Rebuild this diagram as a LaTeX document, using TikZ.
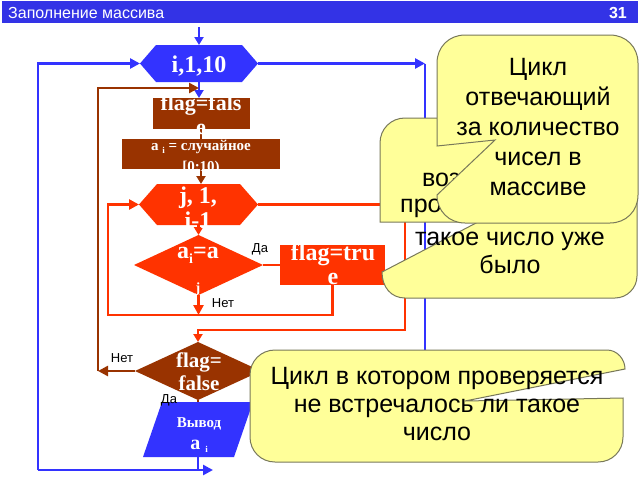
\documentclass[tikz,border=0pt]{standalone}
\usepackage{fontspec}
\setmainfont{Liberation Serif}
\newfontfamily\arial{Liberation Sans}
\usetikzlibrary{arrows.meta,calc}
\definecolor{cblue}{RGB}{51,51,255}
\definecolor{cbrown}{RGB}{153,51,0}
\definecolor{cred}{RGB}{255,51,0}
\definecolor{cyel}{RGB}{255,255,153}
\definecolor{cedge}{RGB}{120,120,90}
\definecolor{ctitle}{RGB}{51,51,230}
\newcommand{\subi}[1]{\raisebox{-3pt}{\fontsize{9}{9}\selectfont #1}}
\begin{document}
\begin{tikzpicture}[x=1pt,y=-1pt,
  tip/.style={-{Triangle[length=10pt,width=10pt]}},
  tips/.style={-{Triangle[length=8pt,width=9pt]}},
  bl/.style={draw=cblue, line width=2.8pt},
  br/.style={draw=cbrown, line width=2.6pt},
  rd/.style={draw=cred, line width=2.6pt},
  anch/.style={inner sep=0pt, outer sep=0pt, rectangle},
  wt/.style={text=white, inner sep=0pt, anchor=base},
  lab/.style={font=\arial\fontsize{13}{15}\selectfont, inner sep=0pt},
  callout/.style={fill=cyel, draw=cedge, line width=1pt},
  ctext/.style={font=\arial\fontsize{25}{29}\selectfont, inner sep=0pt}]
\useasboundingbox (0,0) rectangle (640,480);
\fill[white] (0,0) rectangle (640,480);
% title bar
\node[anch, fill=ctitle, minimum width=636pt, minimum height=22pt, anchor=north west] (bar) at (2,1) {};
\node[anchor=base west, inner sep=0pt, text=white, font=\arial\fontsize{16}{18}\selectfont] (ttl) at (8,18) {Заполнение массива};
\node[anchor=base east, inner sep=0pt, text=white, font=\arial\bfseries\fontsize{16}{18}\selectfont] (num) at (627,18) {31};

% shape anchors
\node[anch, minimum width=118pt, minimum height=37pt] (h1) at (199,63.5) {};
\node[anch, fill=cbrown, minimum width=97pt, minimum height=31pt] (f1) at (201.5,113.5) {};
\node[anch, fill=cbrown, minimum width=158pt, minimum height=30pt] (a1) at (201,154) {};
\node[anch, minimum width=119pt, minimum height=41pt] (h2) at (198.5,204.5) {};
\node[anch, minimum width=129pt, minimum height=60pt] (d1) at (198.5,265) {};
\node[anch, fill=cred, minimum width=105pt, minimum height=40pt] (t1) at (332.5,265) {};
\node[anch, minimum width=126pt, minimum height=58pt] (f2) at (198,371) {};
\node[anch, minimum width=110pt, minimum height=55pt] (o1) at (198,429.5) {};

% shapes
\fill[cblue] (h1.west) -- ($(h1.north west)+(16,0)$) -- ($(h1.north east)+(-16,0)$) -- (h1.east) -- ($(h1.south east)+(-16,0)$) -- ($(h1.south west)+(16,0)$) -- cycle;
\fill[cred] (h2.west) -- ($(h2.north west)+(18,0)$) -- ($(h2.north east)+(-18,0)$) -- (h2.east) -- ($(h2.south east)+(-18,0)$) -- ($(h2.south west)+(18,0)$) -- cycle;
\fill[cred] (d1.north) -- (d1.east) -- (d1.south) -- (d1.west) -- cycle;
\fill[cbrown] (f2.north) -- (f2.east) -- (f2.south) -- (f2.west) -- cycle;
\fill[cblue] ($(o1.north west)+(19,0)$) -- (o1.north east) -- ($(o1.south east)+(-19,0)$) -- (o1.south west) -- cycle;

% blue connectors
\coordinate (c0) at (199,27);
\coordinate (bL) at (38,470);
\coordinate (tL) at (38,63.5);
\coordinate (bR) at (213,470);
\coordinate (tR) at (425,63.5);
\coordinate (bRr) at (425,420);
\draw[bl,tips] (c0) -- (h1.north);
\draw[bl,tip] (bL) -- (tL) -- (h1.west);
\draw[bl,tip] (bL) -- (bR);
\draw[bl] (o1.south) -- (o1.south |- bL);
\draw[bl,tip] (h1.east) -- (tR);
\draw[bl] (tR) -- (bRr);
\draw[bl,tips] (h1.south) -- (h1.south |- f1.north);

% brown connectors
\coordinate (bj) at (199,88);
\coordinate (btl) at (98,88);
\coordinate (bbl) at (98,371);
\draw[br,tip] (f2.west) -- (bbl);
\draw[br,tip] (bbl) -- (btl) -- (bj);
\draw[br] (a1.north |- f1.south) -- (a1.north);
\draw[br,tips] (a1.south) -- (a1.south |- h2.north);
\draw[br] (f2.south) -- (f2.south |- o1.north);

% red connectors
\coordinate (rtl) at (108,204.5);
\coordinate (rbl) at (108,315);
\coordinate (rr1) at (405,204.5);
\coordinate (rr2) at (405,330);
\draw[rd,tip] (t1.south) -- (t1.south |- rbl) -- (rbl) -- (rtl) -- (h2.west);
\draw[rd,tip] (d1.south) -- (d1.south |- rbl);
\draw[rd,tips] (h2.south) -- (h2.south |- d1.north);
\draw[rd] (d1.east) -- (t1.west);
\draw[rd,tips] (h2.east) -- (rr1) -- (rr2) -- (rr2 -| f2.north) -- (f2.north);

% white texts
\node[wt, font=\bfseries\fontsize{24}{26}\selectfont] (h1t) at (199,72) {i,1,10};
\node[wt, font=\bfseries\fontsize{22}{24}\selectfont] (f1a) at (201,110) {flag=fals};
\node[wt, font=\bfseries\fontsize{22}{24}\selectfont] (f1b) at (201,134) {e};
\node[wt, font=\bfseries\fontsize{15}{17}\selectfont] (a1a) at (201,150) {a \subi{i} = случайное};
\node[wt, font=\bfseries\fontsize{15}{17}\selectfont] (a1b) at (201,171) {[0;10)};
\node[wt, font=\bfseries\fontsize{24}{26}\selectfont] (h2a) at (198,203) {j, 1,};
\node[wt, font=\bfseries\fontsize{24}{26}\selectfont] (h2b) at (198,228) {i-1};
\node[wt, font=\bfseries\fontsize{24}{26}\selectfont] (d1a) at (198,258) {a\raisebox{-5pt}{\fontsize{14}{14}\selectfont i}=a};
\node[wt, font=\bfseries\fontsize{14}{14}\selectfont] (d1b) at (198,292) {j};
\node[wt, font=\bfseries\fontsize{24}{26}\selectfont] (t1a) at (333,260) {flag=tru};
\node[wt, font=\bfseries\fontsize{24}{26}\selectfont] (t1b) at (333,284) {e};
\node[wt, font=\bfseries\fontsize{21}{23}\selectfont] (f2a) at (199,367) {flag=};
\node[wt, font=\bfseries\fontsize{21}{23}\selectfont] (f2b) at (199,390) {false};
\node[wt, font=\bfseries\fontsize{15}{17}\selectfont] (o1a) at (199,427) {Вывод};
\node[wt, font=\bfseries\fontsize{20}{22}\selectfont] (o1b) at (199,449) {a \subi{i}};

% labels
\node[lab] (l1) at (260,249) {Да};
\node[lab] (l2) at (223,303) {Нет};
\node[lab] (l3) at (122,358) {Нет};
\node[lab] (l4) at (169,400) {Да};

% callout B (middle)
\path[callout] (380,143) .. controls (380,129) and (391,118) .. (405,118) -- (612,118) .. controls (626,118) and (637,129) .. (637,143) -- (637,276) .. controls (637,288) and (627,298) .. (615,298) -- (405,298) .. controls (391,298) and (382,287) .. (382,272) -- (478,222) -- (380,222) -- cycle;
\node[ctext, anchor=base west] (bt1) at (422,186) {воз};
\node[ctext, anchor=base west] (bt2) at (400,212) {про};
\node[ctext, anchor=base] (bt3) at (510,245) {такое число уже};
\node[ctext, anchor=base] (bt4) at (510,273) {было};

% callout A (top)
\path[callout] (437,146) -- (495,140) -- (437,195) .. controls (437,211) and (449,223) .. (465,223) -- (610,223) .. controls (626,223) and (638,211) .. (638,195) -- (638,63) .. controls (638,47) and (626,35) .. (610,35) -- (465,35) .. controls (449,35) and (437,47) .. (437,63) -- cycle;
\node[ctext, align=center, font=\arial\fontsize{25}{30}\selectfont] (at) at (538,127) {Цикл\\отвечающий\\за количество\\чисел в\\массиве};

% callout D (bottom)
\path[callout] (625,369) -- (465,401) -- (623,398) -- (623,437) .. controls (623,451) and (612,462) .. (598,462) -- (275,462) .. controls (261,462) and (250,451) .. (250,437) -- (250,375) .. controls (250,361) and (261,350) .. (275,350) -- (607,350) .. controls (617,350) and (625,359) .. (625,369) -- cycle;
\node[ctext, align=center, font=\arial\fontsize{25}{28}\selectfont] (dt) at (437,404) {Цикл в котором проверяется\\не встречалось ли такое\\число};
\end{tikzpicture}
\end{document}
